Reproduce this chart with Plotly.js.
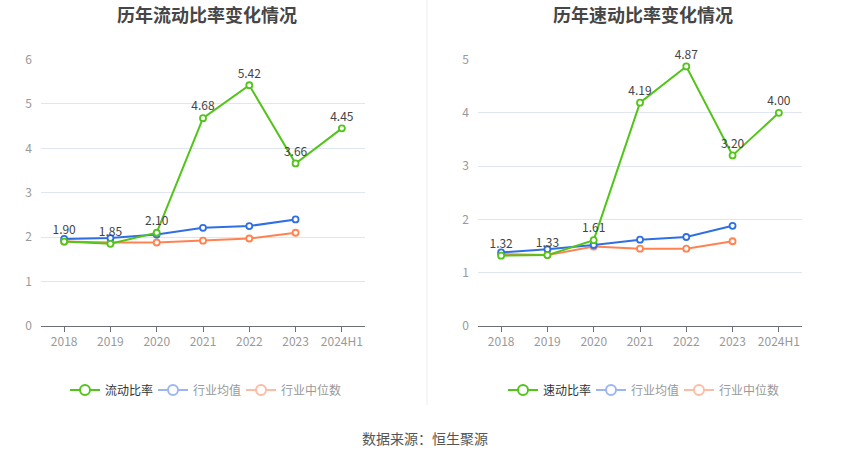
<!DOCTYPE html>
<html>
<head>
<meta charset="utf-8">
<script src="https://cdn.plot.ly/plotly-3.0.1.min.js"></script>
<style>html,body{margin:0;padding:0;background:#fff}#chart{width:850px;height:459px}</style>
</head>
<body>
<div id="chart"></div>
<script>
const years = ['2018','2019','2020','2021','2022','2023','2024H1'];
const currentRatio = [1.90, 1.85, 2.10, 4.68, 5.42, 3.66, 4.45];
const currentAvg = [1.96, 1.98, 2.06, 2.21, 2.25, 2.40];
const currentMedian = [1.90, 1.88, 1.88, 1.92, 1.97, 2.10];
const quickRatio = [1.32, 1.33, 1.61, 4.19, 4.87, 3.20, 4.00];
const quickAvg = [1.38, 1.44, 1.52, 1.62, 1.67, 1.88];
const quickMedian = [1.35, 1.33, 1.49, 1.45, 1.45, 1.59];
const leftTitle = '历年流动比率变化情况';
const rightTitle = '历年速动比率变化情况';
const names1 = ['流动比率','行业均值','行业中位数'];
const names2 = ['速动比率','行业均值','行业中位数'];
const source = '数据来源：恒生聚源';

const GREEN = '#52C41A', BLUE = '#2F6FE4', ORANGE = '#FF8251';
const LBLUE = '#9DB6F3', LORANGE = '#FDBCA4';
const FONT = '"Noto Sans CJK SC", "Noto Sans", sans-serif';

function line(x, y, color, xa, ya, withText) {
  const t = {
    x: x, y: y, type: 'scatter', mode: withText ? 'lines+markers+text' : 'lines+markers',
    xaxis: xa, yaxis: ya, showlegend: false, hoverinfo: 'skip', cliponaxis: false,
    line: {color: color, width: 2},
    marker: {symbol: 'circle', size: 6, color: '#fff', line: {color: color, width: 1.8}}
  };
  if (withText) {
    t.text = y.map(v => v.toFixed(2));
    t.textposition = 'top center';
    t.textfont = {family: FONT, size: 12, color: '#444'};
  }
  return t;
}
function legendItem(name, color, legend, sub, textColor) {
  return {
    x: [null], y: [null], type: 'scatter', mode: 'lines+markers', name: '<span style="color:' + textColor + '">' + name + '</span>',
    legend: legend, xaxis: sub === 1 ? 'x' : 'x2', yaxis: sub === 1 ? 'y' : 'y2',
    line: {color: color, width: 2},
    marker: {symbol: 'circle', size: 10, color: '#fff', line: {color: color, width: 2}}
  };
}

const xs6 = years.slice(0, 6);
const data = [
  line(xs6, currentMedian, ORANGE, 'x', 'y', false),
  line(xs6, currentAvg, BLUE, 'x', 'y', false),
  line(years, currentRatio, GREEN, 'x', 'y', true),
  line(xs6, quickMedian, ORANGE, 'x2', 'y2', false),
  line(xs6, quickAvg, BLUE, 'x2', 'y2', false),
  line(years, quickRatio, GREEN, 'x2', 'y2', true),
  legendItem(names1[0], GREEN, 'legend', 1, '#333'),
  legendItem(names1[1], LBLUE, 'legend', 1, '#999'),
  legendItem(names1[2], LORANGE, 'legend3', 1, '#999'),
  legendItem(names2[0], GREEN, 'legend2', 2, '#333'),
  legendItem(names2[1], LBLUE, 'legend2', 2, '#999'),
  legendItem(names2[2], LORANGE, 'legend4', 2, '#999')
];

const W = 850, H = 459;
const xaxisBase = {
  type: 'category', range: [-0.5, 6.5], showgrid: false, zeroline: false,
  showline: true, linecolor: '#6E7079', linewidth: 1,
  ticks: 'outside', ticklen: 5, tickcolor: '#6E7079',
  tickfont: {family: FONT, size: 12, color: '#999'}, fixedrange: true, automargin: false
};
const yaxisBase = {
  showgrid: true, gridcolor: '#E0E6F1', gridwidth: 1, zeroline: false, showline: false,
  ticks: '', tickfont: {family: FONT, size: 12, color: '#999'}, ticklabelstandoff: 8,
  domain: [1 - 326 / H, 1 - 59.5 / H], fixedrange: true, automargin: false
};
const legendBase = {
  orientation: 'h', yanchor: 'middle', xanchor: 'left', y: 1 - 390 / H,
  font: {family: FONT, size: 12, color: '#333'}, bgcolor: 'rgba(0,0,0,0)',
  itemwidth: 30, itemclick: false, itemdoubleclick: false
};
const pair = {entrywidth: 43, entrywidthmode: 'pixels'};
const layout = {
  width: W, height: H, margin: {l: 0, r: 0, t: 0, b: 0, autoexpand: false},
  paper_bgcolor: '#fff', plot_bgcolor: '#fff',
  font: {family: FONT},
  xaxis: Object.assign({}, xaxisBase, {domain: [41 / W, 365 / W], anchor: 'y'}),
  yaxis: Object.assign({}, yaxisBase, {range: [0, 6], dtick: 1, anchor: 'x'}),
  xaxis2: Object.assign({}, xaxisBase, {domain: [478 / W, 802 / W], anchor: 'y2'}),
  yaxis2: Object.assign({}, yaxisBase, {range: [0, 5], dtick: 1, anchor: 'x2'}),
  legend: Object.assign({}, legendBase, pair, {x: 65 / W}),
  legend3: Object.assign({}, legendBase, {x: 241 / W}),
  legend2: Object.assign({}, legendBase, pair, {x: 503 / W}),
  legend4: Object.assign({}, legendBase, {x: 679 / W}),
  shapes: [{type: 'line', xref: 'paper', yref: 'paper', x0: 427 / W, x1: 427 / W, y0: 1 - 405 / H, y1: 1,
    line: {color: '#EEEEEE', width: 1}}],
  annotations: [
    {text: '<b>' + leftTitle + '</b>', xref: 'paper', yref: 'paper', x: 207 / W, y: 1 - 14 / H,
      xanchor: 'center', yanchor: 'middle', showarrow: false, font: {family: FONT, size: 18, color: '#464646'}},
    {text: '<b>' + rightTitle + '</b>', xref: 'paper', yref: 'paper', x: 643 / W, y: 1 - 14 / H,
      xanchor: 'center', yanchor: 'middle', showarrow: false, font: {family: FONT, size: 18, color: '#464646'}},
    {text: source, xref: 'paper', yref: 'paper', x: 425 / W, y: 1 - 438 / H,
      xanchor: 'center', yanchor: 'middle', showarrow: false, font: {family: FONT, size: 14, color: '#555'}}
  ]
};
Plotly.newPlot('chart', data, layout, {staticPlot: true, displayModeBar: false});
</script>
</body>
</html>
